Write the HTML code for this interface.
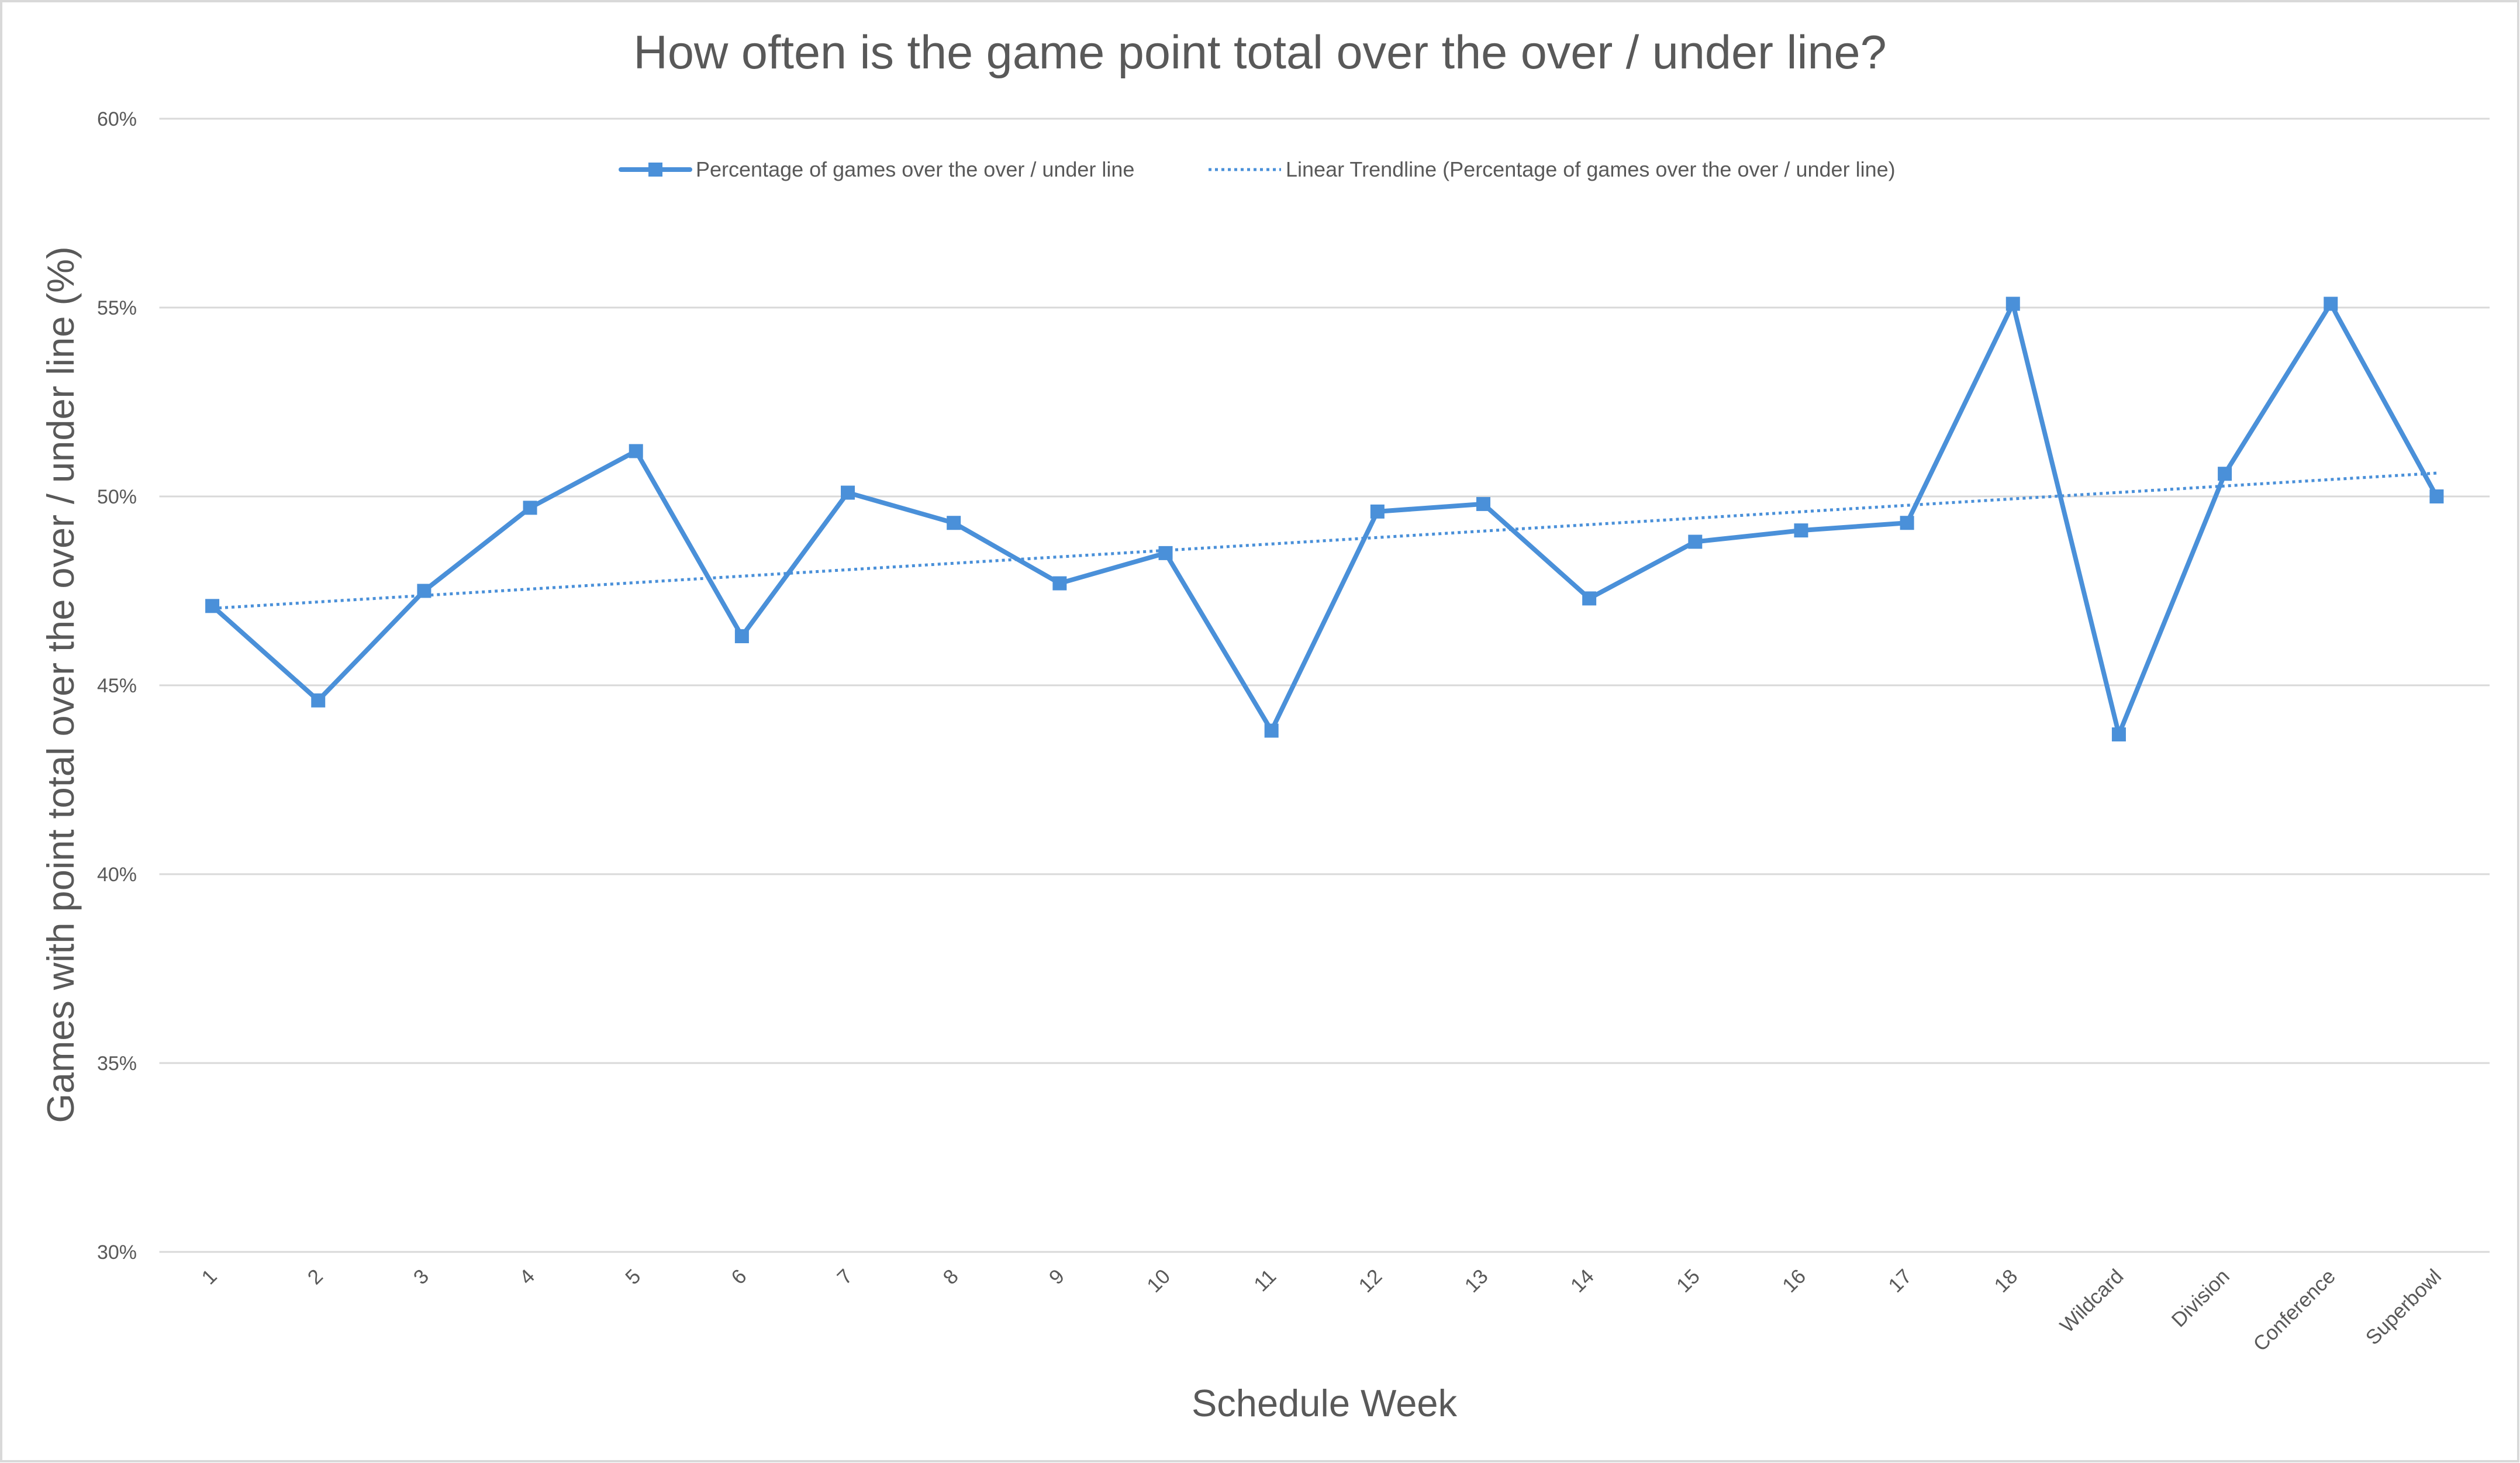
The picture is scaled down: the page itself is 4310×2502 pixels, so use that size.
<!DOCTYPE html>
<html><head><meta charset="utf-8"><style>
html,body{margin:0;padding:0;background:#fff}
svg{display:block}
text{font-family:"Liberation Sans",sans-serif;fill:#595959}
</style></head><body>
<svg id="chart" width="4310" height="2502" viewBox="0 0 4310 2502" xmlns="http://www.w3.org/2000/svg">
<rect x="2" y="2" width="4305" height="2497" fill="#fff" stroke="#d9d9d9" stroke-width="4"/>
<text x="2155" y="117" font-size="81" text-anchor="middle">How often is the game point total over the over / under line?</text>
<g id="grid"></g>
<g id="yticks"></g>
<g id="xticks"></g>
<g id="trend"></g>
<g id="series"></g>
<text transform="translate(126,1171) rotate(-90)" font-size="65" text-anchor="middle">Games with point total over the over / under line (%)</text>
<text x="2265" y="2422" font-size="65" text-anchor="middle">Schedule Week</text>
<g>
<g>
<line x1="1062" y1="290" x2="1180" y2="290" stroke="#4a90d9" stroke-width="8" stroke-linecap="round"/>
<rect x="1109" y="278" width="24" height="24" fill="#4a90d9"/>
<text x="1190" y="302" font-size="36">Percentage of games over the over / under line</text>
</g>
<g>
<line x1="2067" y1="290" x2="2191" y2="290" stroke="#4a90d9" stroke-width="5" stroke-dasharray="5 6"/>
<text x="2199" y="302" font-size="36">Linear Trendline (Percentage of games over the over / under line)</text>
</g>
</g>
</svg>
<script>
const categories = ["1","2","3","4","5","6","7","8","9","10","11","12","13","14","15","16","17","18","Wildcard","Division","Conference","Superbowl"];
const values = [47.1,44.6,47.5,49.7,51.2,46.3,50.1,49.3,47.7,48.5,43.8,49.6,49.8,47.3,48.8,49.1,49.3,55.1,43.7,50.6,55.1,50.0];
const yTicks = [30,35,40,45,50,55,60];
const yMin = 30, yMax = 60;
const plotL = 272.5, plotR = 4258, plotT = 203, plotB = 2141;
const NS = "http://www.w3.org/2000/svg";
const band = (plotR - plotL) / categories.length;
function xScale(i){ return plotL + band * (i + 0.5); }
function yScale(v){ return plotB - (v - yMin) / (yMax - yMin) * (plotB - plotT); }
function mk(tag, attrs, parent){ const e = document.createElementNS(NS, tag); for (const k in attrs) e.setAttribute(k, attrs[k]); parent.appendChild(e); return e; }
const grid = document.getElementById('grid'), yt = document.getElementById('yticks'), xt = document.getElementById('xticks');
yTicks.forEach(t => {
  const y = yScale(t);
  const l = mk('line', {x1: plotL, x2: plotR, y1: y, y2: y, stroke: '#d9d9d9', 'stroke-width': 3}, grid);
  
  
  const tx = mk('text', {x: 234, y: y + 12, 'font-size': 34, 'text-anchor': 'end'}, yt);
  tx.textContent = t + '%';
  
  
});
categories.forEach((c, i) => {
  const x = xScale(i) + 10, y = plotB + 44;
  const tx = mk('text', {x: x, y: y, 'font-size': 35, 'text-anchor': 'end', transform: 'rotate(-45 ' + x + ' ' + y + ')'}, xt);
  tx.textContent = c;
  
  
});
const n = values.length;
let sx = 0, sy = 0, sxy = 0, sxx = 0;
values.forEach((v, i) => { const xx = i + 1; sx += xx; sy += v; sxy += xx * v; sxx += xx * xx; });
const slope = (n * sxy - sx * sy) / (n * sxx - sx * sx), icpt = (sy - slope * sx) / n;
const tl = mk('line', {x1: xScale(0), y1: yScale(icpt + slope), x2: xScale(n - 1), y2: yScale(icpt + slope * n), stroke: '#4a90d9', 'stroke-width': 5, 'stroke-dasharray': '5 6'}, document.getElementById('trend'));


const ser = document.getElementById('series');
const pl = mk('polyline', {points: values.map((v, i) => xScale(i) + ',' + yScale(v)).join(' '), fill: 'none', stroke: '#4a90d9', 'stroke-width': 8, 'stroke-linejoin': 'round'}, ser);


values.forEach((v, i) => {
  const r = mk('rect', {x: xScale(i) - 12, y: yScale(v) - 12, width: 24, height: 24, fill: '#4a90d9'}, ser);
  
  
});
</script>
</body></html>
